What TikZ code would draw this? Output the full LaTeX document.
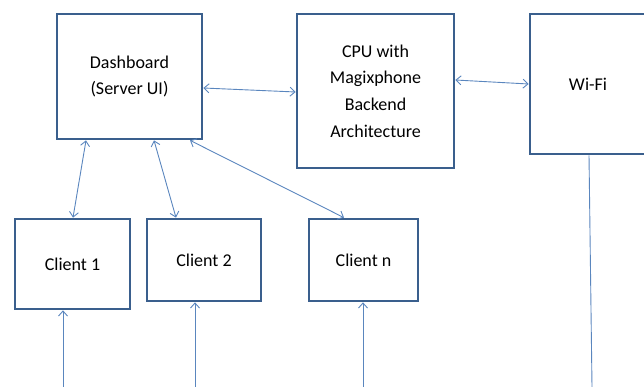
\documentclass[tikz,border=0pt]{standalone}
\usepackage{fontspec}
\setmainfont{Carlito}
\usetikzlibrary{arrows.meta}
\definecolor{boxline}{HTML}{3A5F8D}
\definecolor{conn}{HTML}{5A86BE}
\tikzset{
  blk/.style={draw=boxline, line width=2.7pt, align=center, inner sep=0pt,
    font=\fontsize{18pt}{26.7pt}\selectfont, text=black},
  link/.style={draw=conn, line width=0.9pt},
  bi/.style={link, {Straight Barb[length=5pt,width=9pt]}-{Straight Barb[length=5pt,width=9pt]}},
  uni/.style={link, -{Straight Barb[length=5pt,width=9pt]}}
}
\begin{document}
\begin{tikzpicture}[x=1pt,y=-1pt]
\useasboundingbox (0,0) rectangle (644,387);
\node[blk, minimum width=145pt, minimum height=125pt] (dash) at (129.5,76.5) {Dashboard\\(Server UI)};
\node[blk, minimum width=157pt, minimum height=154pt] (cpu) at (375.5,91) {CPU with\\Magixphone\\Backend\\Architecture};
\node[blk, minimum width=116pt, minimum height=140pt] (wifi) at (588,84) {Wi-Fi};
\node[blk, minimum width=115pt, minimum height=90pt] (c1) at (72.5,264) {Client 1};
\node[blk, minimum width=114pt, minimum height=82pt] (c2) at (204,260) {Client 2};
\node[blk, minimum width=109pt, minimum height=82pt] (cn) at (363.5,260) {Client n};
\coordinate (b1) at (63,387);
\coordinate (b2) at (195,387);
\coordinate (bn) at (363,387);
\coordinate (bw) at (592,387);
\draw[bi] ([yshift=-11.5pt]dash.east) -- ([yshift=-1pt]cpu.west);
\draw[bi] ([yshift=11pt]cpu.east) -- (wifi.west);
\draw[bi] ([xshift=-43.5pt]dash.south) -- ([xshift=0.5pt]c1.north);
\draw[bi] ([xshift=24.5pt]dash.south) -- ([xshift=-28pt]c2.north);
\draw[bi] ([xshift=60.5pt]dash.south) -- ([xshift=-19.5pt]cn.north);
\draw[uni] (b1) -- ([xshift=-9.5pt]c1.south);
\draw[uni] (b2) -- ([xshift=-9pt]c2.south);
\draw[uni] (bn) -- ([xshift=-0.5pt]cn.south);
\draw[link] ([xshift=1pt]wifi.south) -- (bw);
\end{tikzpicture}
\end{document}
